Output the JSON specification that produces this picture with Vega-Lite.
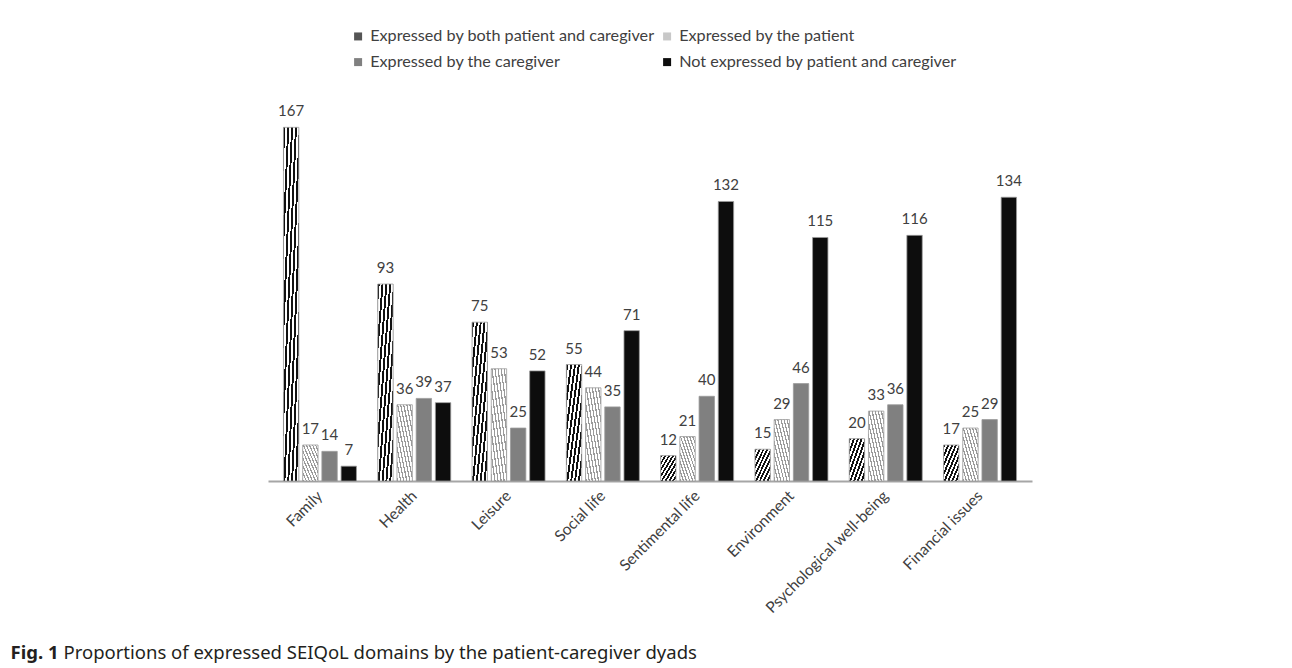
{
  "$schema": "https://vega.github.io/schema/vega-lite/v6.json",
  "autosize": "none",
  "width": 764,
  "height": 360,
  "padding": {"left": 268, "top": 121, "right": 260, "bottom": 187},
  "background": "white",
  "config": {
    "view": {"stroke": null},
    "font": "Lato"
  },
  "data": {
    "values": [
      {"domain": "Family", "group": "Expressed by both patient and caregiver", "n": 167},
      {"domain": "Family", "group": "Expressed by the patient", "n": 17},
      {"domain": "Family", "group": "Expressed by the caregiver", "n": 14},
      {"domain": "Family", "group": "Not expressed by patient and caregiver", "n": 7},
      {"domain": "Health", "group": "Expressed by both patient and caregiver", "n": 93},
      {"domain": "Health", "group": "Expressed by the patient", "n": 36},
      {"domain": "Health", "group": "Expressed by the caregiver", "n": 39},
      {"domain": "Health", "group": "Not expressed by patient and caregiver", "n": 37},
      {"domain": "Leisure", "group": "Expressed by both patient and caregiver", "n": 75},
      {"domain": "Leisure", "group": "Expressed by the patient", "n": 53},
      {"domain": "Leisure", "group": "Expressed by the caregiver", "n": 25},
      {"domain": "Leisure", "group": "Not expressed by patient and caregiver", "n": 52},
      {"domain": "Social life", "group": "Expressed by both patient and caregiver", "n": 55},
      {"domain": "Social life", "group": "Expressed by the patient", "n": 44},
      {"domain": "Social life", "group": "Expressed by the caregiver", "n": 35},
      {"domain": "Social life", "group": "Not expressed by patient and caregiver", "n": 71},
      {"domain": "Sentimental life", "group": "Expressed by both patient and caregiver", "n": 12},
      {"domain": "Sentimental life", "group": "Expressed by the patient", "n": 21},
      {"domain": "Sentimental life", "group": "Expressed by the caregiver", "n": 40},
      {"domain": "Sentimental life", "group": "Not expressed by patient and caregiver", "n": 132},
      {"domain": "Environment", "group": "Expressed by both patient and caregiver", "n": 15},
      {"domain": "Environment", "group": "Expressed by the patient", "n": 29},
      {"domain": "Environment", "group": "Expressed by the caregiver", "n": 46},
      {"domain": "Environment", "group": "Not expressed by patient and caregiver", "n": 115},
      {"domain": "Psychological well-being", "group": "Expressed by both patient and caregiver", "n": 20},
      {"domain": "Psychological well-being", "group": "Expressed by the patient", "n": 33},
      {"domain": "Psychological well-being", "group": "Expressed by the caregiver", "n": 36},
      {"domain": "Psychological well-being", "group": "Not expressed by patient and caregiver", "n": 116},
      {"domain": "Financial issues", "group": "Expressed by both patient and caregiver", "n": 17},
      {"domain": "Financial issues", "group": "Expressed by the patient", "n": 25},
      {"domain": "Financial issues", "group": "Expressed by the caregiver", "n": 29},
      {"domain": "Financial issues", "group": "Not expressed by patient and caregiver", "n": 134}
    ]
  },
  "encoding": {
    "x": {
      "field": "domain",
      "type": "nominal",
      "sort": null,
      "scale": {"paddingInner": 0.226, "paddingOuter": 0.164},
      "axis": {
        "title": "Proportions of expressed SEIQoL domains by the patient-caregiver dyads",
        "titleFont": "Noto Sans",
        "titleFontSize": 18.5,
        "titleFontWeight": "normal",
        "titleColor": "#231f20",
        "titleAnchor": "start",
        "titleAlign": "left",
        "titleBaseline": "middle",
        "titleX": -205,
        "titleY": 171,
        "domainColor": "#a6a6a6",
        "domainWidth": 2,
        "ticks": false,
        "labelAngle": -45,
        "labelAlign": "right",
        "labelBaseline": "middle",
        "labelPadding": 12,
        "labelOffset": 0,
        "labelFontSize": 15.5,
        "labelColor": "#404040",
        "labelFont": "Lato"
      }
    },
    "xOffset": {
      "field": "group",
      "type": "nominal",
      "sort": null,
      "scale": {"paddingInner": 0.2, "paddingOuter": 0}
    },
    "y": {
      "field": "n",
      "type": "quantitative",
      "scale": {"domain": [0, 170]},
      "axis": {
        "title": "Fig. 1",
        "titleFont": "Noto Sans",
        "titleFontSize": 18.5,
        "titleFontWeight": "bold",
        "titleColor": "#231f20",
        "titleAngle": 0,
        "titleAlign": "left",
        "titleBaseline": "middle",
        "titleX": -258,
        "titleY": 531,
        "domain": false,
        "ticks": false,
        "labels": false,
        "grid": false
      }
    }
  },
  "layer": [
    {
      "mark": {"type": "bar", "stroke": "#9a9a9a", "strokeWidth": 0.8},
      "encoding": {
        "fill": {
          "field": "group",
          "type": "nominal",
          "scale": {
            "domain": ["Expressed by both patient and caregiver", "Expressed by the caregiver", "Expressed by the patient", "Not expressed by patient and caregiver"],
            "range": ["#555555", "#808080", "#c8c8c8", "#0d0d0d"]
          },
          "condition": [
            {"test": "datum.group === 'Expressed by both patient and caregiver'", "value":
              {"gradient": "linear", "x1": 0, "y1": 0, "x2": 1, "y2": 1, "stops": [
                {"offset": 0, "color": "#111111"}, {"offset": 0.0625, "color": "#111111"}, {"offset": 0.0625, "color": "#ffffff"}, {"offset": 0.125, "color": "#ffffff"},
                {"offset": 0.125, "color": "#111111"}, {"offset": 0.1875, "color": "#111111"}, {"offset": 0.1875, "color": "#ffffff"}, {"offset": 0.25, "color": "#ffffff"},
                {"offset": 0.25, "color": "#111111"}, {"offset": 0.3125, "color": "#111111"}, {"offset": 0.3125, "color": "#ffffff"}, {"offset": 0.375, "color": "#ffffff"},
                {"offset": 0.375, "color": "#111111"}, {"offset": 0.4375, "color": "#111111"}, {"offset": 0.4375, "color": "#ffffff"}, {"offset": 0.5, "color": "#ffffff"},
                {"offset": 0.5, "color": "#111111"}, {"offset": 0.5625, "color": "#111111"}, {"offset": 0.5625, "color": "#ffffff"}, {"offset": 0.625, "color": "#ffffff"},
                {"offset": 0.625, "color": "#111111"}, {"offset": 0.6875, "color": "#111111"}, {"offset": 0.6875, "color": "#ffffff"}, {"offset": 0.75, "color": "#ffffff"},
                {"offset": 0.75, "color": "#111111"}, {"offset": 0.8125, "color": "#111111"}, {"offset": 0.8125, "color": "#ffffff"}, {"offset": 0.875, "color": "#ffffff"},
                {"offset": 0.875, "color": "#111111"}, {"offset": 0.9375, "color": "#111111"}, {"offset": 0.9375, "color": "#ffffff"}, {"offset": 1, "color": "#ffffff"}
              ]}},
            {"test": "datum.group === 'Expressed by the patient'", "value":
              {"gradient": "linear", "x1": 1, "y1": 0, "x2": 0, "y2": 1, "stops": [
                {"offset": 0, "color": "#ffffff"}, {"offset": 0.06, "color": "#ffffff"}, {"offset": 0.06, "color": "#9a9a9a"}, {"offset": 0.1, "color": "#9a9a9a"},
                {"offset": 0.1, "color": "#ffffff"}, {"offset": 0.16, "color": "#ffffff"}, {"offset": 0.16, "color": "#9a9a9a"}, {"offset": 0.2, "color": "#9a9a9a"},
                {"offset": 0.2, "color": "#ffffff"}, {"offset": 0.26, "color": "#ffffff"}, {"offset": 0.26, "color": "#9a9a9a"}, {"offset": 0.3, "color": "#9a9a9a"},
                {"offset": 0.3, "color": "#ffffff"}, {"offset": 0.36, "color": "#ffffff"}, {"offset": 0.36, "color": "#9a9a9a"}, {"offset": 0.4, "color": "#9a9a9a"},
                {"offset": 0.4, "color": "#ffffff"}, {"offset": 0.46, "color": "#ffffff"}, {"offset": 0.46, "color": "#9a9a9a"}, {"offset": 0.5, "color": "#9a9a9a"},
                {"offset": 0.5, "color": "#ffffff"}, {"offset": 0.56, "color": "#ffffff"}, {"offset": 0.56, "color": "#9a9a9a"}, {"offset": 0.6, "color": "#9a9a9a"},
                {"offset": 0.6, "color": "#ffffff"}, {"offset": 0.66, "color": "#ffffff"}, {"offset": 0.66, "color": "#9a9a9a"}, {"offset": 0.7, "color": "#9a9a9a"},
                {"offset": 0.7, "color": "#ffffff"}, {"offset": 0.76, "color": "#ffffff"}, {"offset": 0.76, "color": "#9a9a9a"}, {"offset": 0.8, "color": "#9a9a9a"},
                {"offset": 0.8, "color": "#ffffff"}, {"offset": 0.86, "color": "#ffffff"}, {"offset": 0.86, "color": "#9a9a9a"}, {"offset": 0.9, "color": "#9a9a9a"},
                {"offset": 0.9, "color": "#ffffff"}, {"offset": 0.96, "color": "#ffffff"}, {"offset": 0.96, "color": "#9a9a9a"}, {"offset": 1, "color": "#9a9a9a"}
              ]}}
          ],
          "legend": {
            "orient": "none",
            "legendX": 82,
            "legendY": -93,
            "title": null,
            "columns": 2,
            "columnPadding": 4,
            "rowPadding": 9,
            "symbolType": "square",
            "symbolSize": 64,
            "symbolStrokeWidth": 0,
            "labelFont": "Lato",
            "labelFontSize": 16.2,
            "labelColor": "#404040",
            "labelLimit": 400,
            "labelOffset": 4,
            "encode": {
              "symbols": {
                "fill": {
                  "condition": [
                    {"test": "datum.value === 'Expressed by both patient and caregiver'", "value":
                      {"gradient": "linear", "x1": 0, "y1": 0, "x2": 1, "y2": 1, "stops": [
                        {"offset": 0, "color": "#111111"}, {"offset": 0.18, "color": "#111111"}, {"offset": 0.18, "color": "#ffffff"}, {"offset": 0.34, "color": "#ffffff"},
                        {"offset": 0.34, "color": "#111111"}, {"offset": 0.5, "color": "#111111"}, {"offset": 0.5, "color": "#ffffff"}, {"offset": 0.66, "color": "#ffffff"},
                        {"offset": 0.66, "color": "#111111"}, {"offset": 0.82, "color": "#111111"}, {"offset": 0.82, "color": "#ffffff"}, {"offset": 1, "color": "#ffffff"}
                      ]}},
                    {"test": "datum.value === 'Expressed by the patient'", "value":
                      {"gradient": "linear", "x1": 1, "y1": 0, "x2": 0, "y2": 1, "stops": [
                        {"offset": 0, "color": "#ffffff"}, {"offset": 0.2, "color": "#ffffff"}, {"offset": 0.2, "color": "#8a8a8a"}, {"offset": 0.33, "color": "#8a8a8a"},
                        {"offset": 0.33, "color": "#ffffff"}, {"offset": 0.53, "color": "#ffffff"}, {"offset": 0.53, "color": "#8a8a8a"}, {"offset": 0.66, "color": "#8a8a8a"},
                        {"offset": 0.66, "color": "#ffffff"}, {"offset": 0.86, "color": "#ffffff"}, {"offset": 0.86, "color": "#8a8a8a"}, {"offset": 1, "color": "#8a8a8a"}
                      ]}},
                    {"test": "datum.value === 'Expressed by the caregiver'", "value": "#808080"}
                  ],
                  "value": "#0d0d0d"
                }
              }
            }
          }
        }
      }
    },
    {
      "mark": {"type": "text", "baseline": "alphabetic", "dy": -11, "fontSize": 15, "color": "#404040", "font": "Lato"},
      "encoding": {
        "text": {"field": "n", "type": "quantitative"}
      }
    }
  ]
}
